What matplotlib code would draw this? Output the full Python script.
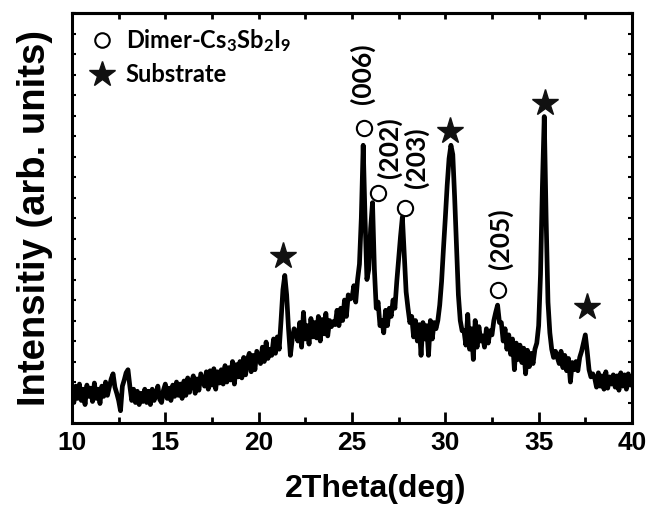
import numpy as np
import matplotlib
matplotlib.use("Agg")
import matplotlib.pyplot as plt
from matplotlib.ticker import MultipleLocator

plt.rcParams['font.family'] = ['Liberation Sans', 'DejaVu Sans']
plt.rcParams['mathtext.fontset'] = 'custom'
plt.rcParams['mathtext.rm'] = 'Lato:bold'
plt.rcParams['mathtext.it'] = 'Lato:bold'
plt.rcParams['mathtext.bf'] = 'Lato:bold'

# 2theta scan, 10-40 deg in 0.1 deg steps (one row per degree)
two_theta = np.round(np.arange(10.0, 40.05, 0.1), 1)
intensity = [
    32, 20, 36, 24, 38, 22, 33, 18, 37, 26,     # 10
    34, 21, 39, 24, 33, 19, 36, 26, 40, 27,     # 11
    35, 43, 48, 35, 29, 22, 12, 36, 42, 49,     # 12
    52, 36, 22, 33, 20, 31, 18, 29, 21, 33,     # 13
    20, 31, 18, 33, 22, 28, 36, 23, 20, 32,     # 14
    38, 24, 34, 22, 37, 26, 40, 27, 38, 24,     # 15
    41, 27, 44, 30, 40, 46, 29, 43, 32, 48,     # 16
    42, 36, 50, 33, 51, 37, 53, 33, 50, 39,     # 17
    52, 38, 56, 40, 54, 42, 60, 38, 57, 45,     # 18
    60, 44, 64, 47, 62, 68, 50, 66, 52, 70,     # 19
    64, 58, 74, 60, 79, 63, 72, 66, 82, 68,     # 20
    84, 72, 100, 130, 144, 125, 92, 66, 82, 92,   # 21
    88, 80, 98, 74, 108, 82, 95, 77, 102, 84,     # 22
    98, 83, 104, 80, 101, 87, 107, 85, 100, 94,   # 23
    99, 96, 110, 95, 112, 100, 120, 104, 125, 121,    # 24
    122, 134, 118, 140, 155, 200, 271, 200, 140, 150,  # 25
    190, 215, 150, 112, 118, 95, 100, 88, 110, 95,     # 26
    112, 104, 120, 112, 138, 160, 182, 201, 165, 128,  # 27
    112, 98, 104, 84, 100, 80, 96, 66, 98, 82,    # 28
    95, 66, 100, 82, 98, 92, 100, 115, 138, 170,  # 29
    200, 232, 258, 271, 262, 220, 172, 125, 100, 90,  # 30
    90, 76, 106, 72, 92, 62, 100, 74, 94, 80,     # 31
    85, 74, 92, 78, 90, 86, 100, 108, 115, 98,    # 32
    98, 80, 92, 72, 86, 67, 82, 52, 78, 62,       # 33
    76, 59, 73, 48, 71, 55, 68, 58, 72, 78,       # 34
    95, 145, 230, 299, 200, 118, 88, 72, 64, 70,  # 35
    64, 58, 70, 54, 66, 51, 63, 40, 59, 52,       # 36
    60, 51, 64, 70, 78, 86, 70, 52, 45, 48,       # 37
    44, 35, 49, 36, 46, 33, 50, 34, 45, 38,       # 38
    47, 35, 46, 32, 49, 36, 47, 33, 48, 37,       # 39
    43,
]

# phase markers and reflection labels
dimer_x = [25.64, 26.39, 27.84, 32.82]
dimer_y = [288, 224, 210, 130]
substrate_x = [21.30, 30.25, 35.34, 37.59]
substrate_y = [163, 285, 312, 113]
hkl_labels = ['(006)', '(202)', '(203)', '(205)']
hkl_x = [25.55, 26.98, 28.45, 32.95]
hkl_y = [341, 269, 259, 180]

fig = plt.figure(figsize=(6.52, 5.13), dpi=100)
ax = fig.add_axes([0.1104, 0.1754, 0.8589, 0.7992])

ax.plot(two_theta, intensity, color='black', linewidth=3.4, solid_joinstyle='round')

ax.plot(dimer_x, dimer_y, 'o', ms=11, mfc='white', mec='black', mew=1.5,
        label=r'Dimer-Cs$_3$Sb$_2$I$_9$')
ax.plot(substrate_x, substrate_y, '*', ms=20, color='#111111', mec='#111111',
        label='Substrate')

for lab, lx, ly in zip(hkl_labels, hkl_x, hkl_y):
    ax.text(lx, ly, lab, rotation=90, ha='center', va='center',
            fontsize=19, fontweight='bold', family='Lato')

ax.set_xlim(10, 40)
ax.set_ylim(0, 400)
ax.xaxis.set_major_locator(MultipleLocator(5))
ax.xaxis.set_minor_locator(MultipleLocator(2.5))
ax.yaxis.set_major_locator(MultipleLocator(20))
ax.set_yticklabels([])

ax.tick_params(axis='x', which='major', direction='in', length=8, width=2,
               labelsize=19, pad=6)
ax.tick_params(axis='x', which='minor', direction='in', length=4, width=2)
ax.tick_params(axis='y', which='major', direction='in', length=3, width=1.5,
               right=True)
for lbl in ax.get_xticklabels():
    lbl.set_fontweight('bold')

top = ax.secondary_xaxis('top')
top.set_xticks(np.arange(10, 40.1, 2.5))
top.tick_params(direction='in', length=4, width=2, labeltop=False)

for sp in ax.spines.values():
    sp.set_linewidth(2.2)
top.spines['top'].set_linewidth(2.2)

ax.set_xlabel('2Theta(deg)', fontsize=23, fontweight='bold')
ax.set_ylabel('Intensitiy (arb. units)', fontsize=27.5, fontweight='bold')
ax.xaxis.set_label_coords(0.543, -0.125)
ax.yaxis.set_label_coords(-0.034, 0.5)

ax.legend(loc='upper left', bbox_to_anchor=(0.012, 0.995), frameon=False,
          numpoints=1, markerscale=0.95,
          prop={'family': 'Lato', 'weight': 'bold', 'size': 17},
          handlelength=1.0, handletextpad=0.5, labelspacing=0.4,
          borderaxespad=0.2, borderpad=0.3)

fig.savefig('out.png', dpi=100)
